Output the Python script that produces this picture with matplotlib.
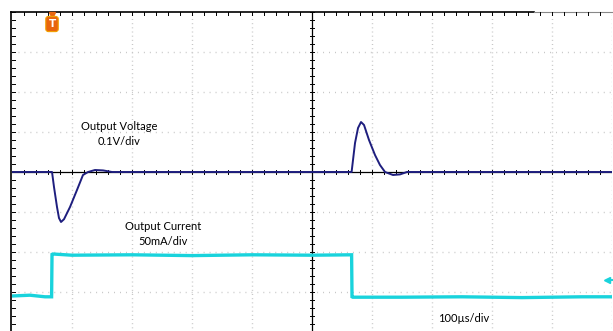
import matplotlib
matplotlib.use("Agg")
import matplotlib.pyplot as plt
import numpy as np

# ---- data (divisions; x: 100 us/div, y: screen divisions) ----
volt_t = [0.0, 0.60, 0.667, 0.70, 0.75, 0.783, 0.817, 0.867, 0.967, 1.083, 1.183,
          1.267, 1.383, 1.517, 1.667, 3.0, 4.5, 5.60, 5.66, 5.717, 5.767, 5.817,
          5.867, 5.95, 6.05, 6.133, 6.217, 6.35, 6.467, 6.583, 7.5, 10.0]
volt_v = [0.0, 0.0, 0.0, -0.375, -0.875, -1.15, -1.25, -1.18, -0.875, -0.45, -0.075,
          0.0, 0.05, 0.04, 0.0, 0.0, 0.0, 0.0, 0.0, 0.725, 1.1, 1.25,
          1.175, 0.8, 0.425, 0.175, 0.0, -0.075, -0.06, 0.0, 0.0, 0.0]

curr_t = [0.0, 0.3, 0.55, 0.66, 0.667, 0.68, 1.0, 2.0, 3.0, 4.0, 5.0, 5.66,
          5.667, 5.68, 6.5, 7.5, 8.5, 9.5, 10.0]
curr_v = [-3.1, -3.08, -3.12, -3.12, -2.06, -2.05, -2.08, -2.07, -2.09, -2.07, -2.08, -2.07,
          -3.12, -3.13, -3.13, -3.12, -3.14, -3.12, -3.12]

labels = [("Output Voltage\n0.1V/div", 1.783, 0.95),
          ("Output Current\n50mA/div", 2.525, -1.55),
          ("100µs/div", 7.53, -3.65)]

W, H = 613, 331
fig = plt.figure(figsize=(W / 100, H / 100), dpi=100)
ax = fig.add_axes([12 / W, 1 - 332 / H, 600 / W, 320 / H])
ax.set_xlim(0, 10)
ax.set_ylim(-4, 4)
ax.axis("off")

grid_c = "#c6c6c6"
# vertical dotted grid
for gx in range(1, 11):
    if gx == 5:
        continue
    ax.plot([gx, gx], [-4, 4], color=grid_c, lw=1.0, dashes=(0.7, 2.3), zorder=1)
# horizontal dotted grid
for gy in [-3, -2, -1, 1, 2, 3]:
    ax.plot([0, 10], [gy, gy], color=grid_c, lw=1.0, dashes=(0.7, 3.6), zorder=1)

# center cross
ax.plot([5, 5], [-4, 4], color="black", lw=0.9, zorder=2)
ax.plot([0, 10], [0, 0], color="black", lw=0.9, zorder=2)
for tx in np.arange(0.2, 10, 0.2):
    ax.plot([tx, tx], [-0.06, 0.06], color="black", lw=0.7, zorder=2)
for ty in np.arange(-4, 4.01, 0.2):
    ax.plot([4.96, 5.04], [ty, ty], color="black", lw=0.7, zorder=2)

# left and top frame
ax.plot([-0.015, -0.015], [-4, 4], color="black", lw=1.2, zorder=3, clip_on=False)
ax.plot([-0.015, 8.7], [4, 4], color="black", lw=1.2, zorder=3, clip_on=False)
ax.plot([8.7, 10], [4, 4], color="#888888", lw=0.8, zorder=3, clip_on=False)
for ty in np.arange(-4, 4.01, 0.2):
    ax.plot([0, 0.05], [ty, ty], color="black", lw=0.7, zorder=3)
for tx in np.arange(0.2, 10, 0.2):
    ax.plot([tx, tx], [4, 3.93], color="black", lw=0.7, zorder=3)

# traces
ax.plot(curr_t, curr_v, color="#19d3dc", lw=2.4, solid_joinstyle="miter", zorder=4)
ax.plot(volt_t, volt_v, color="#1e1e7e", lw=1.4, zorder=5)

# markers
ax.plot([0.667], [3.93], marker="v", color="#e8650e", ms=4, zorder=6, clip_on=False)
ax.text(0.667, 3.7, "T", color="white", fontsize=7.5, fontweight="bold",
        ha="center", va="center", family="DejaVu Sans", zorder=6,
        bbox=dict(boxstyle="round,pad=0.25", fc="#e8650e", ec="#f2a000", lw=0.8))
ax.plot([9.92], [-2.7], marker="<", color="#19d3dc", ms=5, zorder=6, clip_on=False)
ax.plot([9.92, 10], [-2.7, -2.7], color="#19d3dc", lw=1.5, zorder=6, clip_on=False)

for txt, x, y in labels:
    ax.text(x, y, txt, ha="center", va="center", fontsize=8, family="Lato",
            linespacing=1.35, color="black", zorder=7)

fig.savefig("out.png", dpi=100)
